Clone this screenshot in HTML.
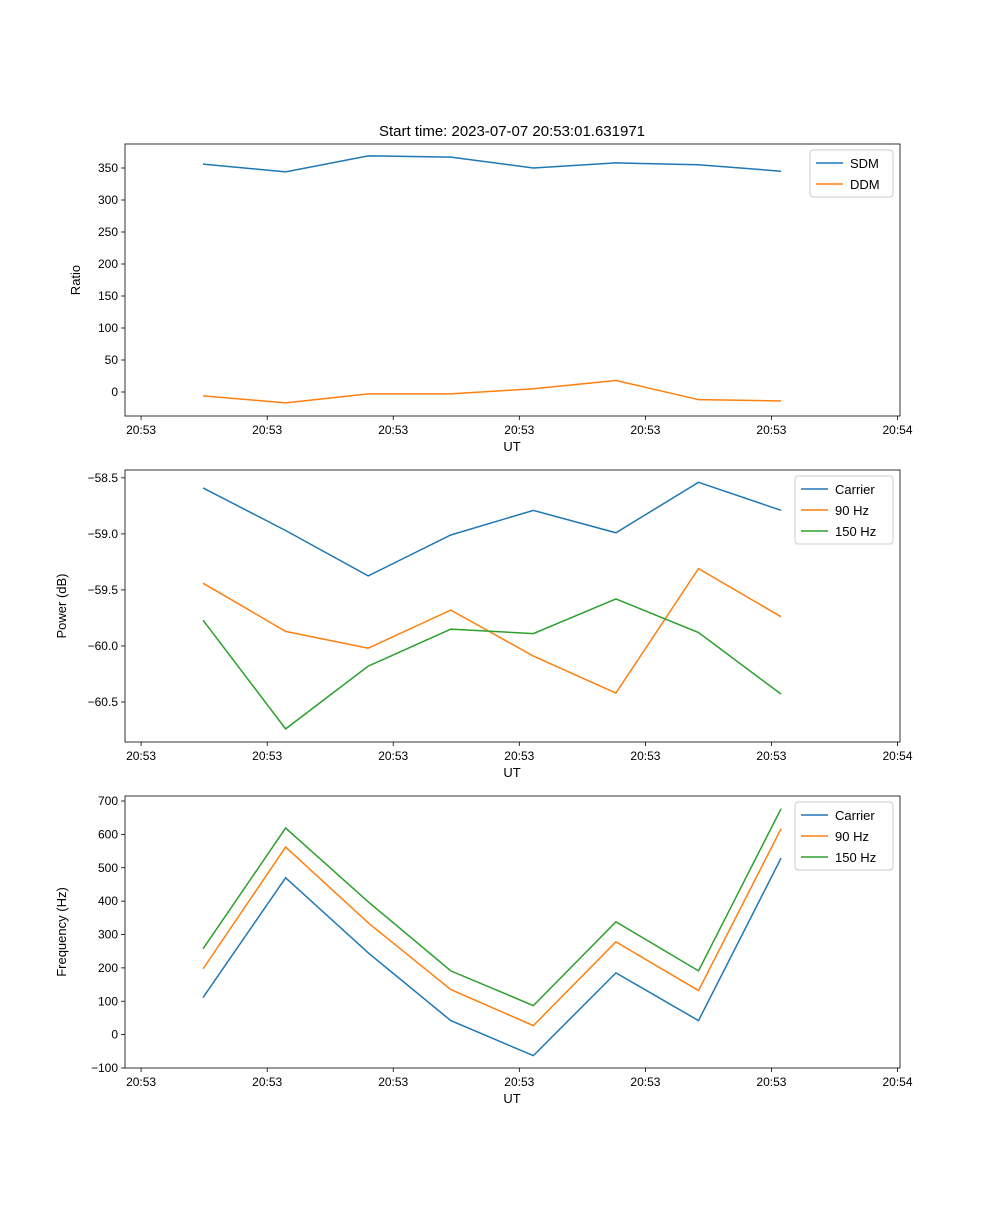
<!DOCTYPE html>
<html><head><meta charset="utf-8"><style>
body{margin:0;background:#fff}
svg{font-family:"Liberation Sans","DejaVu Sans",sans-serif}
</style></head><body>
<svg id="fig" width="1000" height="1200">
<text x="512" y="136" text-anchor="middle" font-size="15">Start time: 2023-07-07 20:53:01.631971</text>
</svg>
<script>
const xIdx=[0,1,2,3,4,5,6,7];
const xTicks=[-0.75,0.777,2.303,3.83,5.357,6.883,8.41];
const xTickLabels=["20:53","20:53","20:53","20:53","20:53","20:53","20:54"];
const sdm=[356,344,369,367,350,358,355,345];
const ddm=[-6,-17,-3,-3,5,18,-12,-14];
const pCarrier=[-58.59,-58.97,-59.375,-59.01,-58.79,-58.99,-58.54,-58.79];
const p90=[-59.44,-59.87,-60.02,-59.68,-60.09,-60.42,-59.31,-59.74];
const p150=[-59.77,-60.74,-60.18,-59.85,-59.89,-59.58,-59.88,-60.43];
const fCarrier=[111,470,245,42,-63,185,42,529];
const f90=[197,562,335,135,27,278,132,617];
const f150=[257,619,398,191,87,338,191,677];
const topTicks=[0,50,100,150,200,250,300,350];
const midTicks=[-60.5,-60.0,-59.5,-59.0,-58.5];
const midTickLabels=["−60.5","−60.0","−59.5","−59.0","−58.5"];
const botTicks=[-100,0,100,200,300,400,500,600,700];

const NS="http://www.w3.org/2000/svg";
const svg=document.getElementById('fig');
const C=["#1f77b4","#ff7f0e","#2ca02c"];
function mk(tag,attrs,parent){const e=document.createElementNS(NS,tag);for(const k in attrs)e.setAttribute(k,attrs[k]);(parent||svg).appendChild(e);return e;}
const L=125,R=900,xmin=-0.945,xmax=8.44;
const X=v=>L+(v-xmin)/(xmax-xmin)*(R-L);

function panel(name,top,bot,ymin,ymax,yt,ytl,ylabel,series,names,legX,legW){
  const g=mk('g',{});
  
  
  const Y=v=>bot-(v-ymin)/(ymax-ymin)*(bot-top);
  series.forEach((s,si)=>{
    const p=mk('polyline',{points:s.map((v,i)=>X(xIdx[i])+','+Y(v)).join(' '),fill:'none',stroke:C[si],'stroke-width':1.5},g);
    
    
  });
  const r=mk('rect',{x:L,y:top,width:R-L,height:bot-top,fill:'none',stroke:'#000','stroke-width':0.8},g);
  
  
  xTicks.forEach((t,i)=>{
    mk('line',{x1:X(t),x2:X(t),y1:bot,y2:bot+4,stroke:'#000','stroke-width':0.8},g);
    const tx=mk('text',{x:X(t),y:bot+18,'text-anchor':'middle','font-size':12},g);tx.textContent=xTickLabels[i];
    
    
  });
  yt.forEach((t,i)=>{
    mk('line',{x1:L-4,x2:L,y1:Y(t),y2:Y(t),stroke:'#000','stroke-width':0.8},g);
    const tx=mk('text',{x:L-7,y:Y(t)+4,'text-anchor':'end','font-size':12},g);tx.textContent=ytl?ytl[i]:String(t).replace('-','−');
    
    
  });
  const xl=mk('text',{x:512,y:bot+35,'text-anchor':'middle','font-size':13},g);xl.textContent='UT';
  
  
  const lx=ylabel==='Ratio'?80:66;
  const yl=mk('text',{x:lx,y:(top+bot)/2,'text-anchor':'middle','font-size':13,transform:`rotate(-90 ${lx} ${(top+bot)/2})`},g);yl.textContent=ylabel;
  
  
  const lh=names.length*21+5;
  const lg=mk('g',{},g);
  
  
  mk('rect',{x:legX,y:top+6,width:legW,height:lh,rx:3,fill:'#fff',stroke:'#ccc'},lg);
  names.forEach((n,i)=>{
    const yy=top+19+i*21;
    mk('line',{x1:legX+6,x2:legX+33,y1:yy,y2:yy,stroke:C[i],'stroke-width':1.5},lg);
    const t=mk('text',{x:legX+40,y:yy+5,'font-size':13},lg);t.textContent=n;
    
    
  });
}
panel('ratio',144,416,-37.5,387.5,topTicks,null,'Ratio',[sdm,ddm],['SDM','DDM'],810,83);
panel('power',470,742,-60.857,-58.43,midTicks,midTickLabels,'Power (dB)',[pCarrier,p90,p150],['Carrier','90 Hz','150 Hz'],795,98);
panel('frequency',796,1068,-100,715,botTicks,null,'Frequency (Hz)',[fCarrier,f90,f150],['Carrier','90 Hz','150 Hz'],795,98);
</script>
</body></html>
